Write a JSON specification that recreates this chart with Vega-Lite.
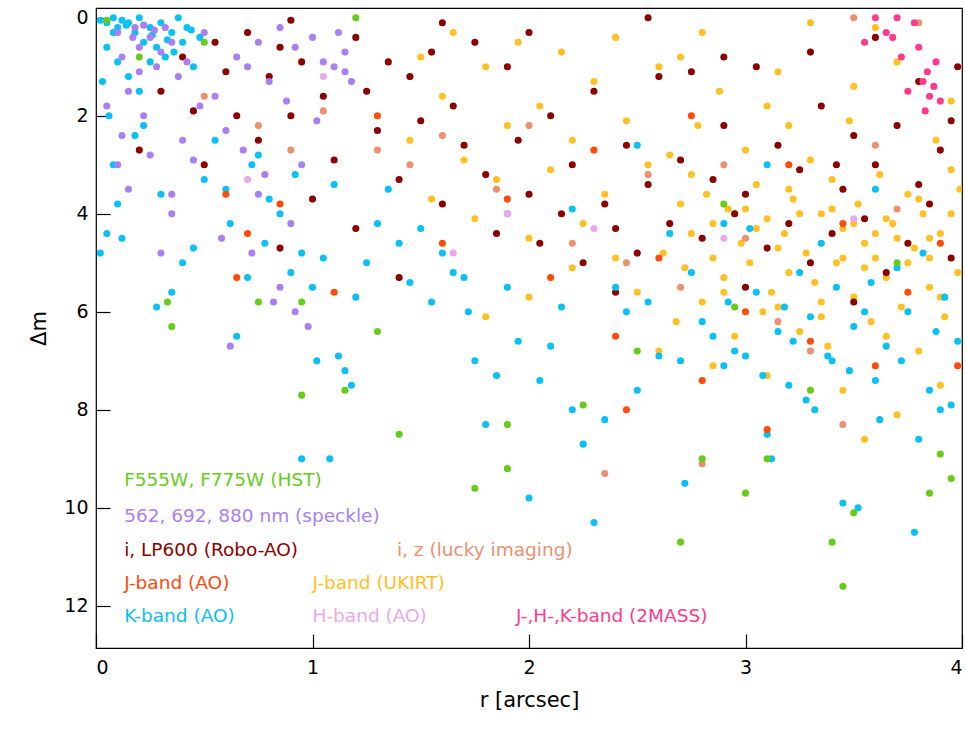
{
  "$schema": "https://vega.github.io/schema/vega-lite/v6.json",
  "width": 866,
  "height": 640,
  "autosize": {"type": "none"},
  "padding": {"left": 96, "top": 8, "right": 4, "bottom": 92},
  "background": "white",
  "config": {
    "font": "DejaVu Sans",
    "view": {"stroke": "black", "strokeWidth": 1.2},
    "axis": {"labelFontSize": 19, "titleFontSize": 21, "titleFontWeight": "normal", "labelColor": "black", "titleColor": "black", "domain": false, "grid": false, "tickColor": "black", "tickSize": -14, "tickWidth": 1.2, "format": "d"}
  },
  "layer": [
    {
      "data": {"values": [
{"s":"U","r":1.45,"m":2.5},{"s":"U","r":1.5,"m":0.8},{"s":"U","r":1.55,"m":3.7},{"s":"U","r":1.6,"m":1.6},{"s":"U","r":1.65,"m":0.3},{"s":"U","r":1.7,"m":2.9},{"s":"U","r":1.75,"m":4.1},{"s":"U","r":1.8,"m":1.0},{"s":"U","r":1.85,"m":3.3},{"s":"U","r":1.9,"m":2.2},{"s":"U","r":1.95,"m":0.5},{"s":"U","r":2.0,"m":4.5},{"s":"U","r":2.05,"m":1.8},{"s":"U","r":2.1,"m":3.1},{"s":"U","r":2.15,"m":0.7},{"s":"U","r":2.2,"m":2.5},{"s":"U","r":2.25,"m":4.2},{"s":"U","r":2.3,"m":1.3},{"s":"U","r":2.35,"m":3.6},{"s":"U","r":2.4,"m":0.4},{"s":"U","r":2.45,"m":2.1},{"s":"U","r":2.5,"m":5.6},{"s":"U","r":2.55,"m":3.0},{"s":"U","r":2.6,"m":1.0},{"s":"U","r":2.62,"m":4.8},{"s":"U","r":2.65,"m":2.8},{"s":"U","r":2.68,"m":6.2},{"s":"U","r":2.7,"m":3.8},{"s":"U","r":2.72,"m":5.1},{"s":"U","r":2.75,"m":4.4},{"s":"U","r":2.78,"m":2.2},{"s":"U","r":2.8,"m":5.8},{"s":"U","r":2.82,"m":3.6},{"s":"U","r":2.85,"m":4.9},{"s":"U","r":2.88,"m":1.5},{"s":"U","r":2.9,"m":5.3},{"s":"U","r":2.92,"m":3.9},{"s":"U","r":2.95,"m":6.5},{"s":"U","r":2.98,"m":4.6},{"s":"U","r":3.0,"m":2.7},{"s":"U","r":3.02,"m":5.0},{"s":"U","r":3.05,"m":3.4},{"s":"U","r":3.08,"m":6.0},{"s":"U","r":3.1,"m":4.1},{"s":"U","r":3.12,"m":5.6},{"s":"U","r":3.15,"m":1.1},{"s":"U","r":3.18,"m":4.4},{"s":"U","r":3.2,"m":5.2},{"s":"U","r":3.22,"m":3.7},{"s":"U","r":3.25,"m":6.4},{"s":"U","r":3.28,"m":4.8},{"s":"U","r":3.3,"m":2.9},{"s":"U","r":3.32,"m":5.4},{"s":"U","r":3.35,"m":4.0},{"s":"U","r":3.38,"m":6.7},{"s":"U","r":3.4,"m":3.3},{"s":"U","r":3.42,"m":5.0},{"s":"U","r":3.45,"m":4.3},{"s":"U","r":3.48,"m":2.1},{"s":"U","r":3.5,"m":5.7},{"s":"U","r":3.52,"m":3.8},{"s":"U","r":3.55,"m":4.6},{"s":"U","r":3.58,"m":6.2},{"s":"U","r":3.6,"m":4.9},{"s":"U","r":3.62,"m":3.2},{"s":"U","r":3.65,"m":5.3},{"s":"U","r":3.68,"m":4.2},{"s":"U","r":3.7,"m":0.9},{"s":"U","r":3.72,"m":5.9},{"s":"U","r":3.75,"m":3.6},{"s":"U","r":3.78,"m":4.7},{"s":"U","r":3.8,"m":6.8},{"s":"U","r":3.82,"m":4.0},{"s":"U","r":3.85,"m":5.5},{"s":"U","r":3.88,"m":2.5},{"s":"U","r":3.9,"m":4.4},{"s":"U","r":3.92,"m":6.1},{"s":"U","r":3.95,"m":3.1},{"s":"U","r":3.98,"m":5.2},{"s":"U","r":3.6,"m":0.2},{"s":"U","r":3.3,"m":0.1},{"s":"U","r":3.1,"m":1.8},{"s":"U","r":2.7,"m":0.8},{"s":"U","r":2.85,"m":7.1},{"s":"U","r":3.45,"m":7.6},{"s":"U","r":3.7,"m":8.1},{"s":"U","r":3.9,"m":7.5},{"s":"U","r":3.55,"m":8.6},{"s":"U","r":3.1,"m":7.3},{"s":"U","r":2.6,"m":6.8},{"s":"U","r":2.95,"m":4.0},{"s":"U","r":3.05,"m":4.3},{"s":"U","r":3.15,"m":4.7},{"s":"U","r":3.25,"m":4.0},{"s":"U","r":3.35,"m":5.8},{"s":"U","r":3.45,"m":4.9},{"s":"U","r":3.55,"m":5.1},{"s":"U","r":3.65,"m":4.1},{"s":"U","r":3.75,"m":5.0},{"s":"U","r":3.85,"m":4.5},{"s":"U","r":3.95,"m":4.0},{"s":"U","r":2.75,"m":3.2},{"s":"U","r":2.85,"m":4.2},{"s":"U","r":3.0,"m":3.9},{"s":"U","r":3.2,"m":3.5},{"s":"U","r":3.4,"m":3.9},{"s":"U","r":3.6,"m":4.4},{"s":"U","r":3.8,"m":3.7},{"s":"U","r":3.9,"m":5.7},{"s":"U","r":3.15,"m":5.9},{"s":"U","r":3.35,"m":6.1},{"s":"U","r":3.65,"m":6.5},{"s":"U","r":2.9,"m":5.6},{"s":"U","r":3.5,"m":4.2},{"s":"U","r":3.7,"m":4.5},{"s":"U","r":3.85,"m":4.9},{"s":"U","r":2.4,"m":4.9},{"s":"U","r":2.2,"m":5.1},{"s":"U","r":2.0,"m":5.7},{"s":"U","r":1.8,"m":6.1},{"s":"U","r":2.8,"m":0.3},{"s":"U","r":3.2,"m":2.2},{"s":"U","r":3.5,"m":1.4},{"s":"U","r":3.95,"m":1.7},{"s":"U","r":3.99,"m":3.5},
{"s":"R","r":0.2,"m":2.7},{"s":"R","r":0.3,"m":1.5},{"s":"R","r":0.4,"m":0.8},{"s":"R","r":0.45,"m":1.9},{"s":"R","r":0.5,"m":3.0},{"s":"R","r":0.55,"m":0.5},{"s":"R","r":0.6,"m":1.1},{"s":"R","r":0.65,"m":2.0},{"s":"R","r":0.7,"m":0.3},{"s":"R","r":0.75,"m":2.5},{"s":"R","r":0.8,"m":1.2},{"s":"R","r":0.85,"m":0.6},{"s":"R","r":0.9,"m":2.0},{"s":"R","r":0.95,"m":0.9},{"s":"R","r":1.0,"m":3.7},{"s":"R","r":1.05,"m":1.6},{"s":"R","r":1.1,"m":2.9},{"s":"R","r":1.2,"m":0.4},{"s":"R","r":1.25,"m":1.5},{"s":"R","r":1.3,"m":2.3},{"s":"R","r":1.35,"m":0.9},{"s":"R","r":1.4,"m":3.3},{"s":"R","r":1.45,"m":1.2},{"s":"R","r":1.5,"m":2.1},{"s":"R","r":1.55,"m":0.7},{"s":"R","r":1.6,"m":3.8},{"s":"R","r":1.65,"m":1.8},{"s":"R","r":1.7,"m":2.6},{"s":"R","r":1.75,"m":0.5},{"s":"R","r":1.8,"m":3.2},{"s":"R","r":1.85,"m":4.4},{"s":"R","r":1.9,"m":1.0},{"s":"R","r":1.95,"m":2.5},{"s":"R","r":2.0,"m":3.6},{"s":"R","r":2.05,"m":4.6},{"s":"R","r":2.1,"m":2.0},{"s":"R","r":2.15,"m":4.0},{"s":"R","r":2.2,"m":3.0},{"s":"R","r":2.25,"m":5.0},{"s":"R","r":2.3,"m":1.5},{"s":"R","r":2.35,"m":3.8},{"s":"R","r":2.4,"m":4.3},{"s":"R","r":2.45,"m":2.6},{"s":"R","r":2.5,"m":4.8},{"s":"R","r":2.55,"m":3.4},{"s":"R","r":2.6,"m":1.2},{"s":"R","r":2.65,"m":4.2},{"s":"R","r":2.7,"m":2.9},{"s":"R","r":2.75,"m":1.1},{"s":"R","r":2.8,"m":4.5},{"s":"R","r":2.85,"m":3.3},{"s":"R","r":2.9,"m":2.2},{"s":"R","r":2.95,"m":4.0},{"s":"R","r":3.0,"m":3.6},{"s":"R","r":3.05,"m":1.0},{"s":"R","r":3.1,"m":4.7},{"s":"R","r":3.15,"m":2.6},{"s":"R","r":3.2,"m":4.2},{"s":"R","r":3.25,"m":3.1},{"s":"R","r":3.3,"m":5.0},{"s":"R","r":3.35,"m":1.8},{"s":"R","r":3.4,"m":4.4},{"s":"R","r":3.45,"m":3.5},{"s":"R","r":3.5,"m":2.4},{"s":"R","r":3.55,"m":4.1},{"s":"R","r":3.6,"m":3.0},{"s":"R","r":3.65,"m":5.2},{"s":"R","r":3.7,"m":2.2},{"s":"R","r":3.75,"m":4.6},{"s":"R","r":3.8,"m":1.3},{"s":"R","r":3.85,"m":3.8},{"s":"R","r":3.9,"m":2.7},{"s":"R","r":3.95,"m":4.9},{"s":"R","r":3.98,"m":1.0},{"s":"R","r":2.0,"m":0.3},{"s":"R","r":1.6,"m":0.1},{"s":"R","r":0.9,"m":0.05},{"s":"R","r":2.9,"m":0.8},{"s":"R","r":3.3,"m":0.7},{"s":"R","r":3.6,"m":0.4},{"s":"R","r":1.2,"m":4.3},{"s":"R","r":0.85,"m":4.7},{"s":"R","r":2.4,"m":5.6},{"s":"R","r":3.0,"m":5.5},{"s":"R","r":3.5,"m":5.8},{"s":"R","r":1.4,"m":5.3},{"s":"R","r":2.55,"m":0.0},{"s":"R","r":3.95,"m":2.1},{"s":"R","r":3.8,"m":3.4},{"s":"R","r":3.42,"m":3.0},
{"s":"L","r":0.5,"m":1.6},{"s":"L","r":0.75,"m":2.2},{"s":"L","r":0.9,"m":2.7},{"s":"L","r":1.05,"m":1.9},{"s":"L","r":1.45,"m":3.0},{"s":"L","r":1.6,"m":2.4},{"s":"L","r":1.85,"m":3.5},{"s":"L","r":2.0,"m":2.2},{"s":"L","r":2.2,"m":4.6},{"s":"L","r":2.35,"m":9.3},{"s":"L","r":2.55,"m":3.2},{"s":"L","r":2.7,"m":5.5},{"s":"L","r":2.8,"m":9.1},{"s":"L","r":3.0,"m":4.5},{"s":"L","r":3.15,"m":6.2},{"s":"L","r":3.3,"m":6.8},{"s":"L","r":3.45,"m":8.3},{"s":"L","r":3.6,"m":2.6},{"s":"L","r":3.8,"m":0.1},{"s":"L","r":3.5,"m":0.0},{"s":"L","r":2.9,"m":3.0},{"s":"L","r":1.3,"m":2.7},{"s":"L","r":2.45,"m":5.0},{"s":"L","r":3.7,"m":3.9},
{"s":"K","r":0.02,"m":0.05},{"s":"K","r":0.05,"m":0.1},{"s":"K","r":0.08,"m":0.0},{"s":"K","r":0.1,"m":0.2},{"s":"K","r":0.12,"m":0.05},{"s":"K","r":0.15,"m":0.1},{"s":"K","r":0.18,"m":0.3},{"s":"K","r":0.2,"m":0.0},{"s":"K","r":0.22,"m":0.5},{"s":"K","r":0.25,"m":0.2},{"s":"K","r":0.28,"m":0.6},{"s":"K","r":0.3,"m":0.1},{"s":"K","r":0.32,"m":0.8},{"s":"K","r":0.35,"m":0.3},{"s":"K","r":0.38,"m":0.0},{"s":"K","r":0.4,"m":0.5},{"s":"K","r":0.42,"m":0.2},{"s":"K","r":0.45,"m":1.0},{"s":"K","r":0.48,"m":0.4},{"s":"K","r":0.05,"m":0.6},{"s":"K","r":0.1,"m":0.9},{"s":"K","r":0.15,"m":1.2},{"s":"K","r":0.2,"m":1.5},{"s":"K","r":0.25,"m":0.9},{"s":"K","r":0.03,"m":1.3},{"s":"K","r":0.06,"m":2.0},{"s":"K","r":0.08,"m":3.0},{"s":"K","r":0.1,"m":3.8},{"s":"K","r":0.05,"m":4.4},{"s":"K","r":0.12,"m":4.5},{"s":"K","r":0.02,"m":4.8},{"s":"K","r":0.3,"m":3.6},{"s":"K","r":0.28,"m":5.9},{"s":"K","r":0.35,"m":5.6},{"s":"K","r":0.4,"m":5.0},{"s":"K","r":0.45,"m":4.7},{"s":"K","r":0.5,"m":3.3},{"s":"K","r":0.55,"m":2.5},{"s":"K","r":0.6,"m":3.5},{"s":"K","r":0.62,"m":4.2},{"s":"K","r":0.65,"m":6.5},{"s":"K","r":0.7,"m":5.3},{"s":"K","r":0.72,"m":3.0},{"s":"K","r":0.75,"m":2.8},{"s":"K","r":0.78,"m":4.6},{"s":"K","r":0.8,"m":3.7},{"s":"K","r":0.85,"m":4.0},{"s":"K","r":0.9,"m":5.2},{"s":"K","r":0.92,"m":3.2},{"s":"K","r":0.95,"m":4.8},{"s":"K","r":1.0,"m":5.5},{"s":"K","r":1.05,"m":4.9},{"s":"K","r":1.1,"m":3.4},{"s":"K","r":1.12,"m":6.9},{"s":"K","r":1.15,"m":7.2},{"s":"K","r":1.18,"m":7.5},{"s":"K","r":1.02,"m":7.0},{"s":"K","r":0.95,"m":9.0},{"s":"K","r":1.08,"m":9.0},{"s":"K","r":1.2,"m":5.7},{"s":"K","r":1.25,"m":5.0},{"s":"K","r":1.3,"m":4.2},{"s":"K","r":1.35,"m":3.5},{"s":"K","r":1.4,"m":4.6},{"s":"K","r":1.45,"m":5.4},{"s":"K","r":1.5,"m":4.3},{"s":"K","r":1.55,"m":5.8},{"s":"K","r":1.6,"m":4.8},{"s":"K","r":1.65,"m":5.2},{"s":"K","r":1.7,"m":5.3},{"s":"K","r":1.72,"m":6.0},{"s":"K","r":1.75,"m":7.0},{"s":"K","r":1.8,"m":8.3},{"s":"K","r":1.85,"m":7.3},{"s":"K","r":1.9,"m":5.5},{"s":"K","r":1.95,"m":6.6},{"s":"K","r":2.0,"m":9.8},{"s":"K","r":2.05,"m":7.4},{"s":"K","r":2.1,"m":6.7},{"s":"K","r":2.15,"m":5.9},{"s":"K","r":2.2,"m":8.0},{"s":"K","r":2.25,"m":8.7},{"s":"K","r":2.3,"m":10.3},{"s":"K","r":2.35,"m":8.2},{"s":"K","r":2.4,"m":5.5},{"s":"K","r":2.45,"m":6.0},{"s":"K","r":2.5,"m":7.6},{"s":"K","r":2.55,"m":5.8},{"s":"K","r":2.6,"m":6.9},{"s":"K","r":2.65,"m":4.4},{"s":"K","r":2.7,"m":7.0},{"s":"K","r":2.72,"m":9.5},{"s":"K","r":2.75,"m":5.2},{"s":"K","r":2.8,"m":6.2},{"s":"K","r":2.85,"m":6.5},{"s":"K","r":2.9,"m":7.1},{"s":"K","r":2.92,"m":5.8},{"s":"K","r":2.95,"m":6.8},{"s":"K","r":3.0,"m":6.9},{"s":"K","r":3.02,"m":4.3},{"s":"K","r":3.05,"m":5.6},{"s":"K","r":3.08,"m":7.3},{"s":"K","r":3.1,"m":8.5},{"s":"K","r":3.12,"m":9.0},{"s":"K","r":3.15,"m":6.4},{"s":"K","r":3.18,"m":5.9},{"s":"K","r":3.2,"m":7.5},{"s":"K","r":3.22,"m":6.6},{"s":"K","r":3.25,"m":5.2},{"s":"K","r":3.28,"m":7.8},{"s":"K","r":3.3,"m":6.1},{"s":"K","r":3.32,"m":8.0},{"s":"K","r":3.35,"m":4.6},{"s":"K","r":3.38,"m":6.9},{"s":"K","r":3.4,"m":7.0},{"s":"K","r":3.42,"m":5.5},{"s":"K","r":3.45,"m":9.9},{"s":"K","r":3.48,"m":7.2},{"s":"K","r":3.5,"m":6.3},{"s":"K","r":3.52,"m":10.0},{"s":"K","r":3.55,"m":6.0},{"s":"K","r":3.58,"m":5.4},{"s":"K","r":3.6,"m":7.4},{"s":"K","r":3.62,"m":8.2},{"s":"K","r":3.65,"m":6.7},{"s":"K","r":3.7,"m":5.1},{"s":"K","r":3.72,"m":7.0},{"s":"K","r":3.75,"m":6.0},{"s":"K","r":3.78,"m":10.5},{"s":"K","r":3.8,"m":8.6},{"s":"K","r":3.82,"m":4.8},{"s":"K","r":3.85,"m":7.6},{"s":"K","r":3.88,"m":6.4},{"s":"K","r":3.9,"m":8.0},{"s":"K","r":3.92,"m":5.7},{"s":"K","r":3.95,"m":7.9},{"s":"K","r":3.98,"m":6.6},{"s":"K","r":3.1,"m":3.0},{"s":"K","r":2.9,"m":4.2},{"s":"K","r":3.6,"m":3.5},{"s":"K","r":2.5,"m":2.6},{"s":"K","r":2.2,"m":3.9},{"s":"K","r":1.9,"m":4.0},{"s":"K","r":0.18,"m":2.4},{"s":"K","r":0.22,"m":2.2},{"s":"K","r":0.08,"m":0.3},{"s":"K","r":0.14,"m":0.15},{"s":"K","r":0.26,"m":0.35},{"s":"K","r":0.33,"m":0.45},{"s":"K","r":0.36,"m":0.7},{"s":"K","r":0.44,"m":0.25},
{"s":"S","r":0.1,"m":0.3},{"s":"S","r":0.12,"m":0.8},{"s":"S","r":0.15,"m":1.5},{"s":"S","r":0.18,"m":0.2},{"s":"S","r":0.2,"m":0.6},{"s":"S","r":0.22,"m":2.0},{"s":"S","r":0.25,"m":0.4},{"s":"S","r":0.28,"m":1.0},{"s":"S","r":0.3,"m":0.7},{"s":"S","r":0.32,"m":0.2},{"s":"S","r":0.35,"m":0.5},{"s":"S","r":0.35,"m":3.6},{"s":"S","r":0.35,"m":4.0},{"s":"S","r":0.38,"m":1.2},{"s":"S","r":0.4,"m":2.5},{"s":"S","r":0.42,"m":0.9},{"s":"S","r":0.45,"m":2.9},{"s":"S","r":0.48,"m":1.8},{"s":"S","r":0.5,"m":0.3},{"s":"S","r":0.55,"m":1.6},{"s":"S","r":0.6,"m":2.3},{"s":"S","r":0.65,"m":0.8},{"s":"S","r":0.68,"m":2.7},{"s":"S","r":0.7,"m":1.0},{"s":"S","r":0.72,"m":4.8},{"s":"S","r":0.75,"m":0.5},{"s":"S","r":0.78,"m":3.2},{"s":"S","r":0.8,"m":1.3},{"s":"S","r":0.82,"m":5.8},{"s":"S","r":0.85,"m":0.2},{"s":"S","r":0.88,"m":1.7},{"s":"S","r":0.9,"m":4.2},{"s":"S","r":0.92,"m":0.6},{"s":"S","r":0.95,"m":3.0},{"s":"S","r":0.98,"m":6.3},{"s":"S","r":1.0,"m":0.4},{"s":"S","r":1.02,"m":2.1},{"s":"S","r":1.05,"m":0.9},{"s":"S","r":1.1,"m":1.0},{"s":"S","r":1.12,"m":0.3},{"s":"S","r":1.15,"m":0.7},{"s":"S","r":1.15,"m":1.1},{"s":"S","r":1.18,"m":1.3},{"s":"S","r":0.62,"m":6.7},{"s":"S","r":0.3,"m":4.8},{"s":"S","r":0.1,"m":3.0},{"s":"S","r":0.12,"m":2.4},{"s":"S","r":0.05,"m":1.8},{"s":"S","r":0.15,"m":3.5},{"s":"S","r":0.25,"m":2.8},{"s":"S","r":0.58,"m":4.5},{"s":"S","r":0.85,"m":5.5},{"s":"S","r":0.92,"m":6.0},{"s":"S","r":0.75,"m":3.6},{"s":"S","r":0.2,"m":1.1},{"s":"S","r":0.22,"m":0.15},{"s":"S","r":0.17,"m":0.4},{"s":"S","r":0.27,"m":0.25},
{"s":"J","r":0.6,"m":3.6},{"s":"J","r":0.7,"m":4.4},{"s":"J","r":0.85,"m":3.8},{"s":"J","r":0.65,"m":5.3},{"s":"J","r":1.1,"m":5.6},{"s":"J","r":1.3,"m":2.0},{"s":"J","r":1.6,"m":4.6},{"s":"J","r":1.9,"m":3.7},{"s":"J","r":2.3,"m":2.7},{"s":"J","r":2.4,"m":6.5},{"s":"J","r":2.45,"m":8.0},{"s":"J","r":2.6,"m":4.9},{"s":"J","r":2.8,"m":7.4},{"s":"J","r":3.0,"m":6.0},{"s":"J","r":3.1,"m":8.4},{"s":"J","r":3.3,"m":6.6},{"s":"J","r":3.45,"m":4.2},{"s":"J","r":3.6,"m":7.1},{"s":"J","r":3.75,"m":5.6},{"s":"J","r":3.9,"m":4.6},{"s":"J","r":2.1,"m":5.3},{"s":"J","r":3.2,"m":3.0},{"s":"J","r":2.75,"m":2.0},{"s":"J","r":3.98,"m":7.1},
{"s":"Hb","r":0.7,"m":3.3},{"s":"Hb","r":1.05,"m":1.2},{"s":"Hb","r":1.65,"m":4.8},{"s":"Hb","r":1.9,"m":4.0},{"s":"Hb","r":2.3,"m":4.3},{"s":"Hb","r":2.9,"m":4.5},{"s":"Hb","r":3.5,"m":4.1},
{"s":"H","r":0.05,"m":0.05},{"s":"H","r":0.2,"m":0.8},{"s":"H","r":0.35,"m":6.3},{"s":"H","r":0.33,"m":5.8},{"s":"H","r":0.5,"m":0.5},{"s":"H","r":0.75,"m":5.8},{"s":"H","r":0.95,"m":5.8},{"s":"H","r":0.95,"m":7.7},{"s":"H","r":1.15,"m":7.6},{"s":"H","r":1.3,"m":6.4},{"s":"H","r":1.4,"m":8.5},{"s":"H","r":1.75,"m":9.6},{"s":"H","r":1.9,"m":9.2},{"s":"H","r":1.9,"m":8.3},{"s":"H","r":2.25,"m":7.9},{"s":"H","r":2.5,"m":6.8},{"s":"H","r":2.7,"m":10.7},{"s":"H","r":2.8,"m":9.0},{"s":"H","r":3.0,"m":9.7},{"s":"H","r":3.1,"m":9.0},{"s":"H","r":3.3,"m":7.6},{"s":"H","r":3.4,"m":10.7},{"s":"H","r":3.45,"m":11.6},{"s":"H","r":3.5,"m":10.1},{"s":"H","r":3.85,"m":9.7},{"s":"H","r":3.9,"m":8.9},{"s":"H","r":3.95,"m":9.4},{"s":"H","r":2.95,"m":5.9},{"s":"H","r":3.7,"m":5.0},{"s":"H","r":2.9,"m":3.8},{"s":"H","r":1.2,"m":0.0},
{"s":"M","r":3.55,"m":0.5},{"s":"M","r":3.6,"m":0.0},{"s":"M","r":3.65,"m":0.3},{"s":"M","r":3.7,"m":0.0},{"s":"M","r":3.72,"m":0.8},{"s":"M","r":3.75,"m":1.5},{"s":"M","r":3.8,"m":0.6},{"s":"M","r":3.82,"m":1.3},{"s":"M","r":3.84,"m":1.1},{"s":"M","r":3.85,"m":1.6},{"s":"M","r":3.87,"m":1.4},{"s":"M","r":3.88,"m":0.9},{"s":"M","r":3.83,"m":1.9},{"s":"M","r":3.9,"m":1.7},{"s":"M","r":3.78,"m":0.1},{"s":"M","r":3.68,"m":0.4}
      ]},
      "mark": {"type": "circle", "size": 50, "opacity": 1, "clip": true},
      "encoding": {
        "x": {"field": "r", "type": "quantitative", "title": "r [arcsec]", "scale": {"domain": [0, 4], "nice": false}, "axis": {"values": [0, 1, 2, 3, 4], "labelPadding": 24, "titlePadding": 12}},
        "y": {"field": "m", "type": "quantitative", "title": "Δm", "scale": {"domain": [12.86, -0.2], "nice": false, "zero": false}, "axis": {"values": [0, 2, 4, 6, 8, 10, 12], "labelPadding": 22, "titlePadding": 14}},
        "color": {"field": "s", "type": "nominal", "legend": null, "scale": {"domain": ["H", "S", "R", "L", "J", "U", "K", "Hb", "M"], "range": ["#66cc1a", "#a880f2", "#8b0000", "#eb9070", "#ff4a0a", "#ffc023", "#0ac0f4", "#eaa8ea", "#ff3a8c"]}}
      }
    },
    {
      "data": {"values": [
        {"s": "H", "t": "F555W, F775W (HST)", "x": 0.13, "y": 9.43},
        {"s": "S", "t": "562, 692, 880 nm (speckle)", "x": 0.13, "y": 10.16},
        {"s": "R", "t": "i, LP600 (Robo-AO)", "x": 0.13, "y": 10.86},
        {"s": "L", "t": "i, z (lucky imaging)", "x": 1.39, "y": 10.86},
        {"s": "J", "t": "J-band (AO)", "x": 0.13, "y": 11.53},
        {"s": "U", "t": "J-band (UKIRT)", "x": 1.0, "y": 11.53},
        {"s": "K", "t": "K-band (AO)", "x": 0.13, "y": 12.2},
        {"s": "Hb", "t": "H-band (AO)", "x": 1.0, "y": 12.2},
        {"s": "M", "t": "J-,H-,K-band (2MASS)", "x": 1.94, "y": 12.2}
      ]},
      "mark": {"type": "text", "align": "left", "baseline": "middle", "fontSize": 18.5},
      "encoding": {
        "x": {"field": "x", "type": "quantitative"},
        "y": {"field": "y", "type": "quantitative"},
        "text": {"field": "t"},
        "color": {"field": "s", "type": "nominal", "legend": null}
      }
    }
  ]
}
